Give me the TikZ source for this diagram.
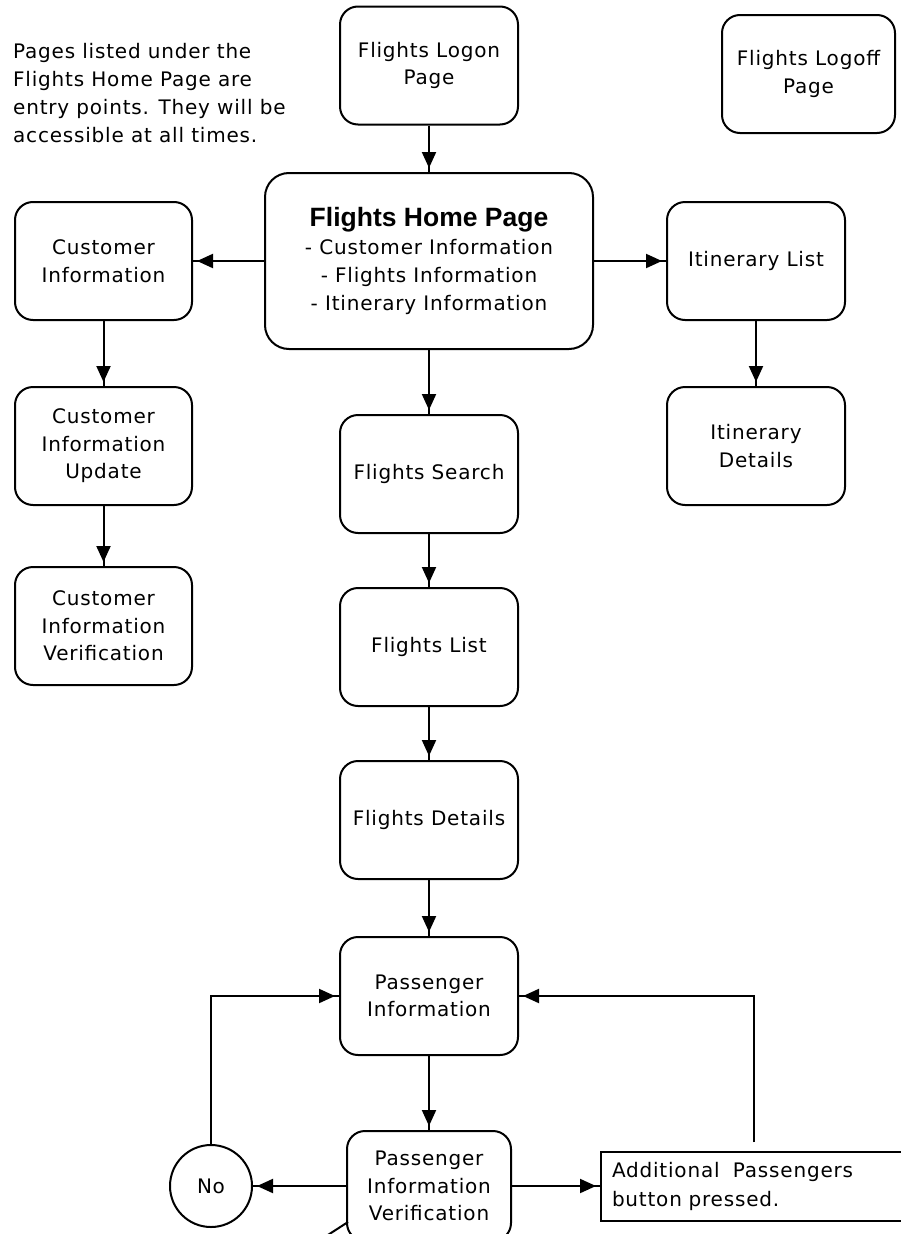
\documentclass[tikz,border=0pt]{standalone}
\usepackage{fontspec}
\setmainfont{DejaVu Sans}[LetterSpace=4]
\newfontfamily\titlefont{Liberation Sans}
\usetikzlibrary{arrows.meta}
\begin{document}
\begin{tikzpicture}[x=1pt,y=-1pt,
  link/.style={line width=2},
  arr/.style={link, postaction={draw, line width=2, -{Triangle[length=16,width=14]}, shorten >=4}},
  page/.style={draw, line width=2, rounded corners=18, align=center, inner sep=0,
    minimum width=178, minimum height=118, font=\fontsize{20}{27.5}\selectfont},
  decision/.style={draw, line width=2, circle, inner sep=0, minimum size=82,
    font=\fontsize{20}{24}\selectfont},
  notebox/.style={draw, line width=2, rectangle, align=left, inner xsep=11, inner ysep=0,
    text width=307, minimum height=69, font=\fontsize{20}{29}\selectfont},
  freetext/.style={align=left, inner sep=0, font=\fontsize{20}{28}\selectfont}
]
\useasboundingbox (0,0) rectangle (901,1234);

\node[freetext, anchor=north west] (note0) at (13,43) {Pages listed under the\\Flights Home Page are\\entry points. They will be\\accessible at all times.};

\node[page] (logon) at (429,65.5) {Flights Logon\\Page};
\node[page, minimum width=173] (logoff) at (808.5,74) {Flights Logoff\\Page};
\node[page, minimum width=328, minimum height=176, rounded corners=24] (home) at (429,261)
  {{\titlefont\bfseries\fontsize{26.5}{30}\selectfont Flights Home Page}\\[1pt]
   - Customer Information\\[0.5pt] - Flights Information\\[0.5pt] - Itinerary Information};
\node[page, minimum width=177] (ci) at (103.5,261) {Customer\\Information};
\node[page] (il) at (756,261) {Itinerary List};
\node[page, minimum width=177] (ciu) at (103.5,446) {Customer\\Information\\Update};
\node[page] (id) at (756,446) {Itinerary\\Details};
\node[page, minimum width=177] (civ) at (103.5,626) {Customer\\Information\\Verification};
\node[page] (search) at (429,474) {Flights Search};
\node[page] (list) at (429,647) {Flights List};
\node[page] (details) at (429,820) {Flights Details};
\node[page] (pi) at (429,996) {Passenger\\Information};
\node[page, minimum width=164, minimum height=110] (piv) at (429,1186) {Passenger\\Information\\Verification};
\node[decision] (no) at (211,1186) {No};
\node[notebox] (addl) at (765.5,1186) {Additional\ \ Passengers\\button pressed.};

\coordinate (nt) at (754,1142);
\coordinate (d1) at (348,1222);
\coordinate (d2) at (300,1253);

\draw[arr] (logon.south) -- (home.north);
\draw[arr] (home.west) -- (ci.east);
\draw[arr] (home.east) -- (il.west);
\draw[arr] (il.south) -- (id.north);
\draw[arr] (ci.south) -- (ciu.north);
\draw[arr] (ciu.south) -- (civ.north);
\draw[arr] (home.south) -- (search.north);
\draw[arr] (search.south) -- (list.north);
\draw[arr] (list.south) -- (details.north);
\draw[arr] (details.south) -- (pi.north);
\draw[arr] (pi.south) -- (piv.north);
\draw[arr] (piv.west) -- (no.east);
\draw[arr] (piv.east) -- (addl.west);
\draw[arr] (no.north) |- (pi.west);
\draw[arr] (nt) |- (pi.east);
\draw[link] (d1) -- (d2);
\end{tikzpicture}
\end{document}
